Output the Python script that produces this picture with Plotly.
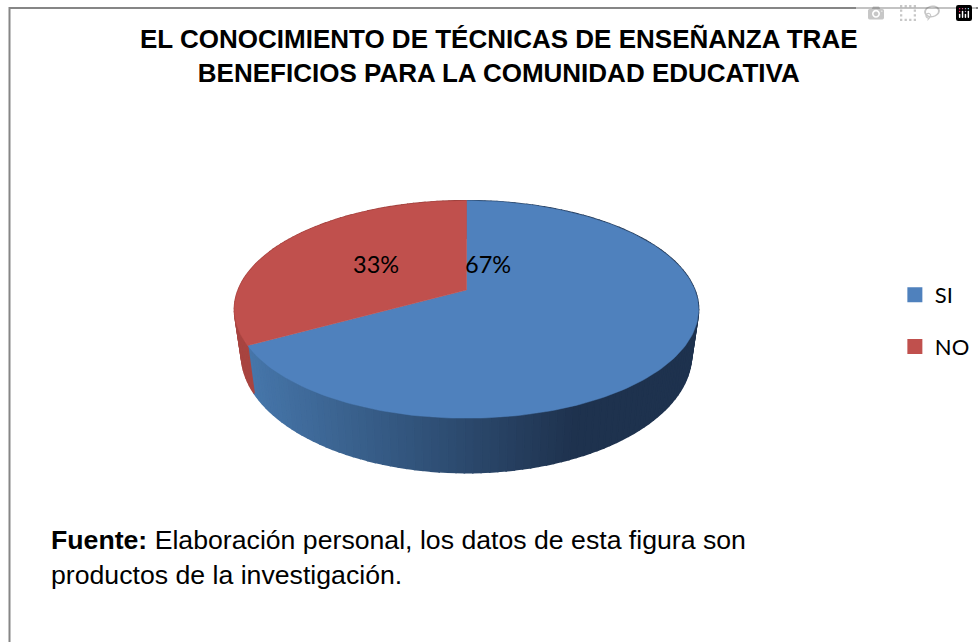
import numpy as np
import plotly.graph_objects as go

categories = ["SI", "NO"]
values = [67, 33]
labels = ["67%", "33%"]
colors = ["#4f81bd", "#c0504d"]
side_left = {"SI": (70, 118, 170), "NO": (168, 68, 64)}
side_right = {"SI": (30, 50, 78), "NO": (140, 55, 52)}

title = "<b>EL CONOCIMIENTO DE TÉCNICAS DE ENSEÑANZA TRAE<br>BENEFICIOS PARA LA COMUNIDAD EDUCATIVA</b>"
source = "<b>Fuente:</b> Elaboración personal, los datos de esta figura son<br>productos de la investigación."

# tilted disc, drawn with a perspective projection
CX, CY = 466.5, 290.0
RX, RY, K = 228.3, 105.3, 0.179
SHRINK, DEPTH, K_DEPTH = 0.97, 43.4, 0.255


def top_point(angle):
    u, v = np.sin(angle), np.cos(angle)
    w = 1 + K * v
    return CX + RX * u / w, CY - RY * v / w


def bottom_point(angle):
    u, v = np.sin(angle), np.cos(angle)
    w = 1 + K * v
    return (
        CX + SHRINK * RX * u / w,
        CY - SHRINK * RY * v / w + DEPTH / (1 + K_DEPTH * v),
    )


def side_color(name, x):
    t = np.clip((x - 248) / (575 - 248), 0, 1)
    c = [round(a + (b - a) * t) for a, b in zip(side_left[name], side_right[name])]
    return f"rgb({c[0]},{c[1]},{c[2]})"


fig = go.Figure()

shares = np.array(values) / sum(values)
ends = np.cumsum(shares) * 2 * np.pi
starts = ends - shares * 2 * np.pi

# side wall first, the top face covers whatever is behind it
for name, a0, a1 in zip(categories, starts, ends):
    steps = np.linspace(a0, a1, int(200 * (a1 - a0) / (2 * np.pi)) + 2)
    for s0, s1 in zip(steps[:-1], steps[1:]):
        x0, y0 = top_point(s0)
        x1, y1 = top_point(s1)
        x2, y2 = bottom_point(s1)
        x3, y3 = bottom_point(s0)
        col = side_color(name, (x0 + x1) / 2)
        fig.add_trace(go.Scatter(
            x=[x0, x1, x2, x3, x0], y=[y0, y1, y2, y3, y0],
            mode="lines", fill="toself", fillcolor=col,
            line=dict(color=col, width=1.6),
            showlegend=False, hoverinfo="skip",
        ))

for name, color, a0, a1 in zip(categories, colors, starts, ends):
    angles = np.linspace(a0, a1, 200)
    xs, ys = top_point(angles)
    fig.add_trace(go.Scatter(
        x=[CX, *xs, CX], y=[CY, *ys, CY],
        mode="lines", fill="toself", fillcolor=color,
        line=dict(color=color, width=0.5),
        showlegend=False, name=name,
    ))

for name, color in zip(categories, colors):
    fig.add_trace(go.Scatter(
        x=[None], y=[None], mode="markers", name=name, legendgroup=name,
        marker=dict(symbol="square", size=15, color=color),
    ))

for text, x in zip(labels, [488, 376]):
    fig.add_annotation(x=x, y=264, text=text, showarrow=False,
                       font=dict(family="Lato", size=23.5, color="#000000"))

fig.add_annotation(x=49, y=557, text=source, showarrow=False, align="left",
                   xanchor="left", yanchor="middle",
                   font=dict(family="Liberation Sans", size=26.67, color="#000000"))

# chart frame, open towards the right and bottom of the page
fig.add_shape(type="rect", x0=9.5, x1=990, y0=8, y1=660,
              line=dict(color="#868686", width=2))

fig.update_layout(
    width=978, height=642,
    margin=dict(l=0, r=0, t=0, b=0),
    paper_bgcolor="#ffffff", plot_bgcolor="#ffffff",
    title=dict(text=title, x=0.51, xanchor="center", y=0.925, yanchor="middle",
               font=dict(family="Liberation Sans", size=26, color="#000000")),
    legend=dict(x=0.915, y=0.5, yanchor="middle", tracegroupgap=20,
                font=dict(family="Lato", size=22, color="#000000"),
                bgcolor="rgba(0,0,0,0)"),
    xaxis=dict(range=[0, 978], visible=False, fixedrange=True),
    yaxis=dict(range=[642, 0], visible=False, fixedrange=True),
)

fig.write_html("out.html", post_script="document.body.style.margin='0';")
